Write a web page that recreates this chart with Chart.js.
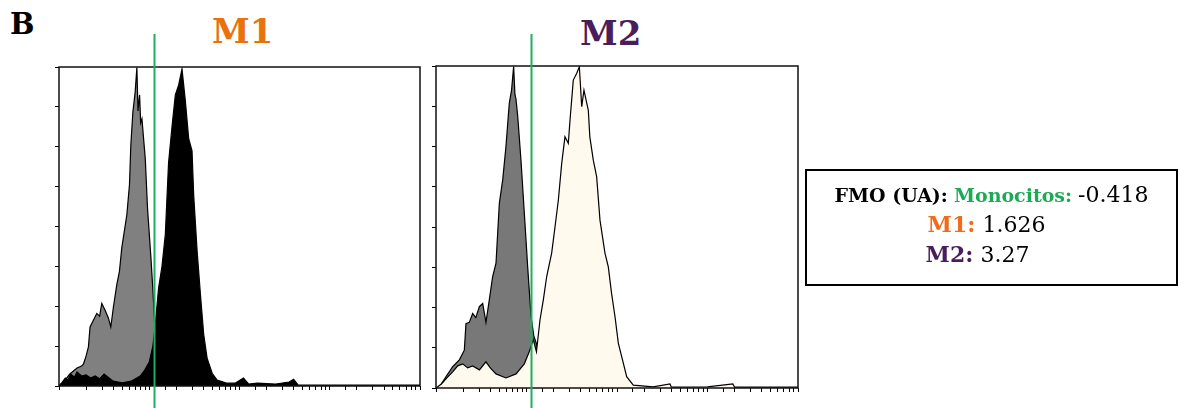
<!DOCTYPE html>
<html>
<head>
<meta charset="utf-8">
<script src="https://cdn.jsdelivr.net/npm/chart.js@4.4.1/dist/chart.umd.min.js"></script>
<style>
  html, body { margin: 0; padding: 0; background: #fff; }
  body { width: 1178px; height: 408px; position: relative; overflow: hidden; font-family: "DejaVu Serif", serif; }
  canvas { position: absolute; top: 0; }
  .lbl { position: absolute; font-weight: bold; white-space: nowrap; line-height: 1; }
  #info { position: absolute; left: 805px; top: 169px; width: 369px; height: 113px; border: 2px solid #000; }
  #info .row { position: absolute; left: 0; width: 100%; text-align: center; white-space: nowrap; line-height: 1; }
  #info .num { font-size: 22px; }
  b { font-weight: bold; }
</style>
</head>
<body>
<div class="lbl" style="left:10px;top:10px;font-size:29px;color:#000;">B</div>
<div class="lbl" style="left:212px;top:14px;font-size:34px;color:#E8720C;">M1</div>
<div class="lbl" style="left:580px;top:16px;font-size:34px;color:#4A1E5C;">M2</div>

<canvas id="c1" width="430" height="408" style="left:0px"></canvas>
<canvas id="c2" width="380" height="408" style="left:430px"></canvas>

<div id="info">
  <div class="row" style="top:13px;font-size:19px;">
    <b>FMO (UA):</b> <b style="color:#1DAA55;">Monocitos:</b> <span class="num">-0.418</span>
  </div>
  <div class="row" style="top:42px;left:-5px;font-size:22px;">
    <b style="color:#F26B1D;">M1:</b> <span class="num">1.626</span>
  </div>
  <div class="row" style="top:72px;left:-14px;font-size:22px;">
    <b style="color:#4A1E5C;">M2:</b> <span class="num">3.27</span>
  </div>
</div>

<script>
// x = log10 of fluorescence (4 decades), y = relative count
const fmoM1 = [[0,0],[0.05,0.1],[0.12,0.3],[0.2,0.45],[0.25,0.5],[0.27,0.55],[0.3,0.75],[0.326,0.98],[0.344,1.48],
  [0.381,1.65],[0.419,1.82],[0.45,1.75],[0.474,2.07],[0.511,1.9],[0.548,1.7],[0.574,1.48],[0.604,2.0],[0.641,2.55],
  [0.67,2.88],[0.696,3.47],[0.752,4.3],[0.781,5.05],[0.796,6.05],[0.819,6.88],[0.844,7.37],[0.863,7.99],[0.875,6.9],
  [0.893,7.3],[0.905,6.6],[0.919,6.7],[0.956,5.7],[0.981,4.45],[1.019,3.2],[1.041,2.38],[1.059,1.6],[1.08,0.9],
  [1.12,0.3],[1.2,0]];

const m1 = [[0,0],[0.03,0.08],[0.07,0.2],[0.1,0.15],[0.13,0.3],[0.17,0.22],[0.2,0.35],[0.25,0.25],[0.3,0.28],
  [0.35,0.2],[0.4,0.25],[0.45,0.18],[0.5,0.3],[0.6,0.12],[0.7,0.08],[0.8,0.12],[0.9,0.25],[0.95,0.4],[1.0,0.6],
  [1.04,1.0],[1.067,1.55],[1.103,2.45],[1.141,3.0],[1.178,3.8],[1.214,5.6],[1.252,6.5],[1.289,7.3],[1.326,7.55],
  [1.363,7.95],[1.4,7.15],[1.437,6.2],[1.474,5.9],[1.492,4.8],[1.53,3.4],[1.567,2.3],[1.603,1.3],[1.641,0.7],
  [1.697,0.32],[1.752,0.15],[1.863,0.07],[1.95,0.07],[2.044,0.2],[2.1,0.05],[2.2,0.07],[2.4,0.05],[2.55,0.1],
  [2.6,0.17],[2.65,0.02],[4.0,0.02]];

const fmoM2 = [[0,0],[0.037,0.02],[0.11,0.28],[0.184,0.53],[0.258,0.7],[0.313,0.94],[0.331,1.6],[0.368,1.63],
  [0.405,1.85],[0.44,1.75],[0.479,2.02],[0.516,2.1],[0.552,1.63],[0.589,2.19],[0.626,2.77],[0.663,3.1],[0.7,4.59],
  [0.737,5.17],[0.773,6.0],[0.81,7.08],[0.835,7.4],[0.858,7.99],[0.872,7.3],[0.884,7.17],[0.903,6.75],[0.939,5.66],
  [0.976,4.34],[1.013,3.01],[1.05,1.78],[1.08,1.3],[1.11,1.1],[1.15,0.6],[1.2,0]];

const m2 = [[0,0],[0.06,0.1],[0.12,0.25],[0.184,0.4],[0.24,0.55],[0.295,0.6],[0.35,0.5],[0.405,0.55],[0.48,0.45],
  [0.552,0.65],[0.6,0.5],[0.663,0.35],[0.773,0.25],[0.884,0.35],[0.976,0.6],[1.03,0.9],[1.075,1.2],[1.11,0.9],
  [1.149,1.69],[1.186,2.19],[1.223,2.77],[1.278,3.35],[1.315,4.0],[1.352,4.67],[1.389,5.58],[1.425,6.24],
  [1.462,6.08],[1.481,6.66],[1.517,7.65],[1.555,7.82],[1.584,7.98],[1.61,6.99],[1.635,7.4],[1.683,6.9],[1.70,6.24],
  [1.738,5.66],[1.775,5.25],[1.812,4.17],[1.867,3.35],[1.904,3.01],[1.94,2.35],[1.978,1.77],[2.015,1.11],
  [2.052,0.78],[2.107,0.28],[2.18,0.07],[2.4,0.03],[2.586,0.1],[2.6,0.02],[3.0,0.03],[3.28,0.1],[3.3,0.02],[4.0,0.02]];

// gate (log10) for the monocyte FMO marker
const gateM1 = 1.055;
const gateM2 = 1.05;

const toPoints = arr => arr.map(p => ({ x: Math.pow(10, p[0]), y: p[1] }));

// frame + green gate line
const framePlugin = {
    id: 'frame',
    afterDraw(chart, args, opts) {
        const { ctx, chartArea: a } = chart;
        ctx.save();
        ctx.strokeStyle = '#111';
        ctx.lineWidth = 1.5;
        ctx.strokeRect(a.left, a.top, a.right - a.left, a.bottom - a.top);
        const gx = Math.round(chart.scales.x.getPixelForValue(Math.pow(10, opts.gate))) + 0.5;
        ctx.strokeStyle = '#1DB060';
        ctx.lineWidth = 2;
        ctx.beginPath();
        ctx.moveTo(gx, 34);
        ctx.lineTo(gx, chart.height);
        ctx.stroke();
        ctx.restore();
    }
};

function histChart(id, fmo, stained, stainedColor, fmoColor, gate, pad) {
    return new Chart(document.getElementById(id), {
        type: 'line',
        data: {
            datasets: [
                { data: toPoints(stained), backgroundColor: stainedColor },
                { data: toPoints(fmo), backgroundColor: fmoColor }
            ].map(d => Object.assign(d, {
                borderColor: '#000', borderWidth: 1.2, pointRadius: 0, tension: 0, fill: 'origin'
            }))
        },
        options: {
            responsive: false,
            animation: false,
            layout: { padding: pad },
            plugins: { legend: { display: false }, tooltip: { enabled: false }, frame: { gate: gate } },
            scales: {
                x: {
                    type: 'logarithmic', min: 1, max: 10000,
                    ticks: { display: false },
                    grid: { drawOnChartArea: false, drawTicks: true, tickLength: 4, color: '#000', lineWidth: 1 },
                    border: { display: false },
                    afterFit: s => { s.height = 4; }
                },
                y: {
                    min: 0, max: 8,
                    ticks: { display: false, stepSize: 1 },
                    grid: { drawOnChartArea: false, drawTicks: true, tickLength: 4, color: '#000', lineWidth: 1 },
                    border: { display: false },
                    afterFit: s => { s.width = 4; }
                }
            }
        },
        plugins: [framePlugin]
    });
}

window.onload = function () {
    histChart('c1', fmoM1, m1, '#000000', '#808080', gateM1,
        { left: 55, right: 10, top: 67, bottom: 18 });
    histChart('c2', fmoM2, m2, '#FFF9EE', '#787878', gateM2,
        { left: 2, right: 12, top: 66, bottom: 16 });
};
</script>
</body>
</html>
